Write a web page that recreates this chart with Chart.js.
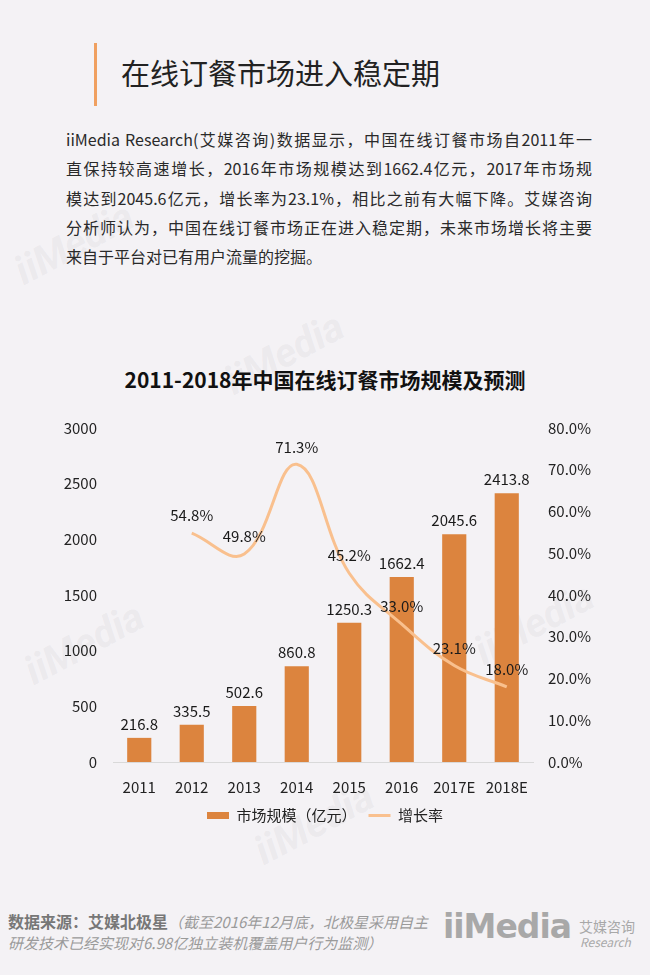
<!DOCTYPE html>
<html>
<head>
<meta charset="utf-8">
<script src="https://cdn.jsdelivr.net/npm/chart.js@4.4.1/dist/chart.umd.min.js"></script>
<style>
  html, body { margin: 0; padding: 0; }
  body {
    width: 650px; height: 975px; position: relative; overflow: hidden;
    background: #f4f2f5;
    font-family: "Noto Sans CJK SC", "Noto Sans", sans-serif;
    color: #222;
  }
  .bar { position: absolute; left: 94px; top: 43px; width: 3px; height: 63px; background: #f0a060; }
  .title { position: absolute; left: 121px; top: 52px; font-size: 29px; line-height: 40px; color: #222; white-space: nowrap; }
  .para { position: absolute; left: 66px; top: 125px; width: 526px; font-size: 16px; line-height: 29.3px; color: #2a2a2a; }
  .para div { text-align: justify; text-align-last: justify; white-space: nowrap; }
  .para div.last { text-align-last: left; }
  .ctitle { position: absolute; left: 0; width: 650px; top: 364px; text-align: center; font-size: 21px; font-weight: bold; color: #111; white-space: nowrap; }
  .wm { position: absolute; font-family: Roboto, sans-serif; font-weight: bold; font-style: italic; font-size: 40px; color: rgba(160,160,170,0.11); transform: rotate(-28deg); white-space: nowrap; pointer-events: none; }
  #wrap { position: absolute; left: 0; top: 403px; width: 650px; height: 437px; }
  .src { position: absolute; left: 8px; top: 911px; font-size: 15px; line-height: 21px; color: #888; white-space: nowrap; }
  .src b { font-size: 16px; color: #777; }
  .src i { color: #9a9a9a; }
  .logo { position: absolute; left: 443px; top: 907px; white-space: nowrap; color: #a8a8a8; }
  .logo .big { font-family: "DejaVu Sans", sans-serif; font-weight: bold; font-size: 33px; letter-spacing: -1px; }
  .logo .cn { position: absolute; left: 136px; top: 11px; font-size: 14px; line-height: 16px; }
  .logo .en { position: absolute; left: 137px; top: 28px; font-size: 12px; line-height: 14px; font-style: italic; }
</style>
</head>
<body>
<div class="wm" style="left:10px;top:220px;">iiMedia</div>
<div class="wm" style="left:220px;top:330px;">iiMedia</div>
<div class="wm" style="left:20px;top:620px;">iiMedia</div>
<div class="wm" style="left:470px;top:600px;">iiMedia</div>
<div class="wm" style="left:250px;top:800px;">iiMedia</div>

<div class="bar"></div>
<div class="title">在线订餐市场进入稳定期</div>
<div class="para">
  <div>iiMedia Research(艾媒咨询)数据显示，中国在线订餐市场自2011年一</div>
  <div>直保持较高速增长，2016年市场规模达到1662.4亿元，2017年市场规</div>
  <div>模达到2045.6亿元，增长率为23.1%，相比之前有大幅下降。艾媒咨询</div>
  <div>分析师认为，中国在线订餐市场正在进入稳定期，未来市场增长将主要</div>
  <div class="last">来自于平台对已有用户流量的挖掘。</div>
</div>
<div class="ctitle">2011-2018年中国在线订餐市场规模及预测</div>
<div id="wrap"><canvas id="chart"></canvas></div>

<div class="src"><b>数据来源：艾媒北极星</b><i>（截至2016年12月底，北极星采用自主<br>研发技术已经实现对6.98亿独立装机覆盖用户行为监测）</i></div>
<div class="logo"><span class="big">iiMedia</span><span class="cn">艾媒咨询</span><span class="en">Research</span></div>

<script>
const years = ['2011', '2012', '2013', '2014', '2015', '2016', '2017E', '2018E'];
const marketSize = [216.8, 335.5, 502.6, 860.8, 1250.3, 1662.4, 2045.6, 2413.8];
const growthRate = [null, 54.8, 49.8, 71.3, 45.2, 33.0, 23.1, 18.0];

const barColor = '#dc843e';
const lineColor = '#f9c08e';
const fontFamily = '"Noto Sans CJK SC", "Noto Sans", sans-serif';

// value labels above bars and line points
const valueLabels = {
  id: 'valueLabels',
  afterDatasetsDraw(chart) {
    const ctx = chart.ctx;
    ctx.save();
    ctx.font = '15px ' + fontFamily;
    ctx.fillStyle = '#1a1a1a';
    ctx.textAlign = 'center';
    ctx.textBaseline = 'bottom';
    chart.getDatasetMeta(0).data.forEach((el, i) => {
      ctx.fillText(marketSize[i].toFixed(1), el.x, el.y - 6);
    });
    chart.getDatasetMeta(1).data.forEach((el, i) => {
      if (growthRate[i] == null) return;
      ctx.fillText(growthRate[i].toFixed(1) + '%', el.x, el.y - 10);
    });
    ctx.restore();
  }
};

new Chart(document.getElementById('chart'), {
  type: 'bar',
  data: {
    labels: years,
    datasets: [{
      type: 'bar',
      label: '市场规模（亿元）',
      data: marketSize,
      backgroundColor: barColor,
      barPercentage: 0.46,
      categoryPercentage: 1,
      yAxisID: 'y',
      pointStyle: 'rect',
      order: 1
    }, {
      type: 'line',
      label: '增长率',
      data: growthRate,
      borderColor: lineColor,
      backgroundColor: lineColor,
      borderWidth: 3,
      tension: 0.4,
      pointRadius: 0,
      pointStyle: 'line',
      yAxisID: 'y1',
      order: 0
    }]
  },
  options: {
    responsive: true,
    maintainAspectRatio: false,
    animation: false,
    layout: { padding: { top: 13, bottom: 7, left: 0, right: 0 } },
    plugins: {
      tooltip: { enabled: false },
      legend: {
        position: 'bottom',
        labels: {
          usePointStyle: true,
          pointStyleWidth: 22,
          boxWidth: 22,
          boxHeight: 7,
          padding: 12,
          color: '#222',
          font: { size: 15, family: fontFamily },
          sort: (a, b) => a.datasetIndex - b.datasetIndex
        }
      }
    },
    scales: {
      x: {
        grid: { display: false },
        border: { display: true, color: '#d9d9d9', width: 1 },
        ticks: { color: '#222', font: { size: 15, family: fontFamily }, padding: 8 },
        afterFit: s => { s.height = 34; }
      },
      y: {
        position: 'left',
        min: 0, max: 3000,
        ticks: { stepSize: 500, color: '#222', padding: 16, font: { size: 15, family: fontFamily },
          callback: v => String(v) },
        grid: { display: false, drawTicks: false },
        border: { display: false },
        afterFit: s => { s.width = 113; }
      },
      y1: {
        position: 'right',
        min: 0, max: 80,
        ticks: { stepSize: 10, color: '#222', padding: 15, font: { size: 15, family: fontFamily },
          callback: v => v.toFixed(1) + '%' },
        grid: { display: false, drawTicks: false },
        border: { display: false },
        afterFit: s => { s.width = 117; }
      }
    }
  },
  plugins: [valueLabels]
});
</script>
</body>
</html>
